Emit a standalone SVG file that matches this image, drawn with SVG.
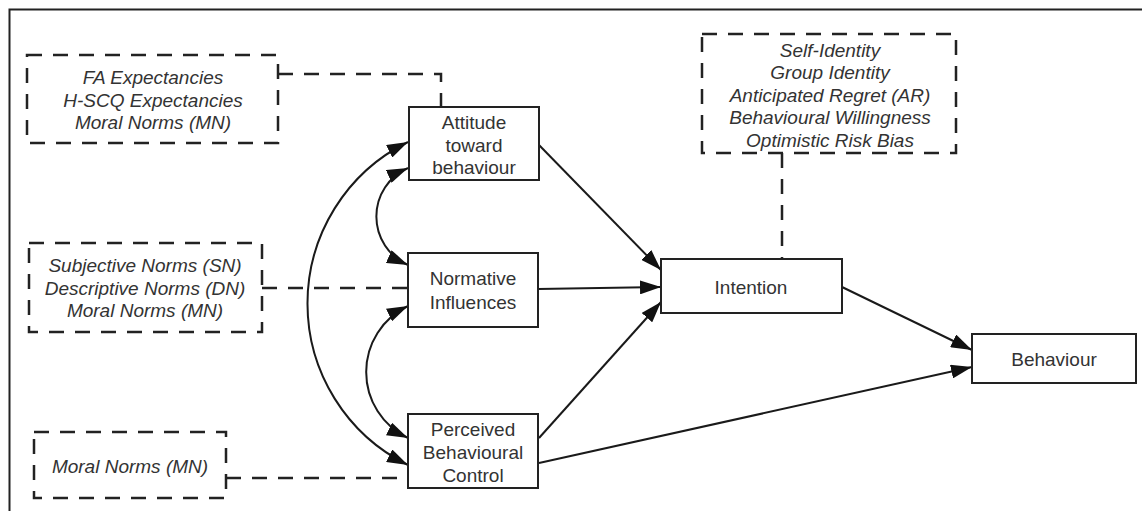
<svg xmlns="http://www.w3.org/2000/svg" width="1142" height="511" viewBox="0 0 1142 511">
  <style>
    .node { fill: #ffffff; stroke: #222222; stroke-width: 2; }
    .ext { fill: #ffffff; stroke: #222222; stroke-width: 2.5; stroke-dasharray: 15 11; }
    .dash { fill: none; stroke: #222222; stroke-width: 2.5; stroke-dasharray: 15 11; }
    .arrow { fill: none; stroke: #1a1a1a; stroke-width: 2; marker-end: url(#head); }
    .both { fill: none; stroke: #1a1a1a; stroke-width: 2; marker-start: url(#head); marker-end: url(#head); }
    text { font-family: "Liberation Sans", Arial, sans-serif; font-size: 19px; fill: #333333; text-anchor: middle; }
    .it { font-style: italic; }
  </style>
  <defs>
    <marker id="head" markerUnits="userSpaceOnUse" markerWidth="22" markerHeight="14" refX="21" refY="7" orient="auto-start-reverse">
      <path d="M0,0 L21,7 L0,14 z" fill="#111111"/>
    </marker>
  </defs>

  <rect width="1142" height="511" fill="#ffffff"/>
  <!-- frame -->
  <path d="M9.5 511 V9.5 H1142" fill="none" stroke="#222222" stroke-width="2"/>

  <!-- connectors -->
  <g id="connectors">
    <path class="dash" d="M278 74 H441 V107"/>
    <path class="dash" d="M262 288 H408"/>
    <path class="dash" d="M226 478 H408"/>
    <path class="dash" d="M782 153 V259"/>
    <path class="arrow" d="M539 145 L661 270"/>
    <path class="arrow" d="M538 289 L661 287"/>
    <path class="arrow" d="M539 438 L661 302"/>
    <path class="arrow" d="M539 463 L972 367"/>
    <path class="arrow" d="M842 287 L972 350"/>
    <path class="both" d="M408 168 A53 53 0 0 0 408 265"/>
    <path class="both" d="M408 306 A73 73 0 0 0 408 438"/>
    <path class="both" d="M408 142 A180 180 0 0 0 408 465"/>
  </g>

  <!-- external factor groups -->
  <g id="fa-factors">
    <rect class="ext" x="27" y="55" width="251" height="88"/>
    <text class="it" x="153" y="84">FA Expectancies</text>
    <text class="it" x="153" y="107">H-SCQ Expectancies</text>
    <text class="it" x="153" y="129">Moral Norms (MN)</text>
  </g>
  <g id="norm-factors">
    <rect class="ext" x="29" y="243" width="233" height="89"/>
    <text class="it" x="145" y="272">Subjective Norms (SN)</text>
    <text class="it" x="145" y="295">Descriptive Norms (DN)</text>
    <text class="it" x="145" y="317">Moral Norms (MN)</text>
  </g>
  <g id="pbc-factors">
    <rect class="ext" x="34" y="432" width="192" height="66"/>
    <text class="it" x="130" y="473">Moral Norms (MN)</text>
  </g>
  <g id="intention-factors">
    <rect class="ext" x="702" y="34" width="254" height="119"/>
    <text class="it" x="830" y="57">Self-Identity</text>
    <text class="it" x="830" y="79">Group Identity</text>
    <text class="it" x="830" y="102">Anticipated Regret (AR)</text>
    <text class="it" x="830" y="124">Behavioural Willingness</text>
    <text class="it" x="830" y="147">Optimistic Risk Bias</text>
  </g>

  <!-- core constructs -->
  <g id="attitude">
    <rect class="node" x="409" y="107" width="130" height="73"/>
    <text x="474" y="129">Attitude</text>
    <text x="474" y="152">toward</text>
    <text x="474" y="174">behaviour</text>
  </g>
  <g id="normative">
    <rect class="node" x="408" y="253" width="130" height="74"/>
    <text x="473" y="285">Normative</text>
    <text x="473" y="309">Influences</text>
  </g>
  <g id="pbc">
    <rect class="node" x="408" y="414" width="130" height="74"/>
    <text x="473" y="436">Perceived</text>
    <text x="473" y="459">Behavioural</text>
    <text x="473" y="482">Control</text>
  </g>
  <g id="intention">
    <rect class="node" x="661" y="259" width="181" height="54"/>
    <text x="751" y="294">Intention</text>
  </g>
  <g id="behaviour">
    <rect class="node" x="972" y="334" width="164" height="49"/>
    <text x="1054" y="366">Behaviour</text>
  </g>
</svg>
